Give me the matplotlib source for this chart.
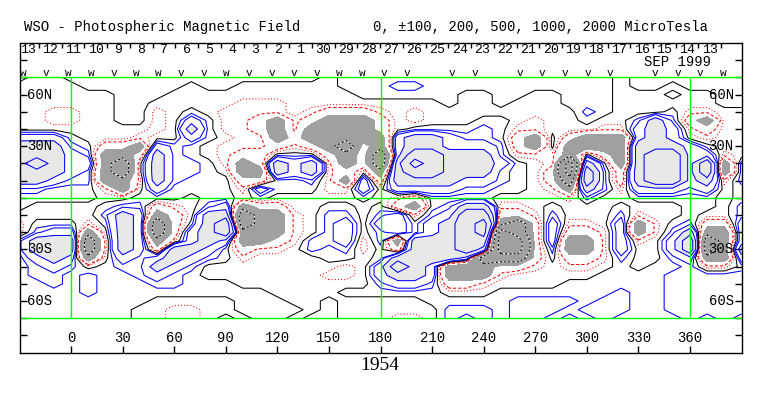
#!/usr/bin/env python3
"""
WSO synoptic chart of the photospheric magnetic field, Carrington rotation 1954.

Contours are drawn from a coarse longitude/latitude grid of field values
read off the original chart (one band code per grid point).
"""

import numpy as np
import matplotlib.pyplot as plt

MONO = "Liberation Mono"
SERIF = "Liberation Serif"

# Grid: longitudes every 10 deg, latitudes every 5 deg (north to south)
LON = list(range(-30, 391, 10))
LAT = list(range(70, -71, -5))

# band code -> representative field value in microTesla
BAND = {"R": -2500, "Q": -1500, "W": -750, "N": -350, "n": -150, "-": -50,
        "+": 50, "p": 150, "P": 350, "H": 750, "X": 1500, "Z": 2500}

# one string per latitude row, one character per longitude column
FIELD_ROWS = [
    "+--+++++++" "++++++++-+" "++++++++++" "+++++-++++" "+++",  # 70N
    "----++++++" "-++------+" "++pp++++++" "+++++-++-+" "+++",  # 65N
    "------+++-" "----------" "++++++--++" "--+++---+-" "-++",  # 60N
    "------++--" "---nnn----" "-----+--+-" "--+++-----" "-++",  # 55N
    "--nn--++n-" "+-nnnn-nNN" "Nn-n------" "---p+---+n" "n--",  # 50N
    "--nn--++n-" "P+nnNWnNWW" "WN-n---++-" "n--+--pHpN" "W--",  # 45N
    "--------n-" "H+nnNWnWWW" "WN-++++p+n" "n---nnPHPn" "N--",  # 40N
    "PPP+---n--" "P+-nnWNWWW" "WWPHHPpp+N" "W+NWWWPHP-" "n--",  # 35N
    "HHHp+NNWPp" "+-nnnNnNWQ" "NWPHHPPPpN" "W+WWWWHHHP" "+--",  # 30N
    "HHHPpWWNHp" "+-nNN+++NW" "NQPXXHHHpn" "nnW+NWHXXP" "Pn-",  # 25N
    "HXHPPWQ-Hp" "p+nWNHPHnW" "NQHZXHHHP+" "-nRH+WHXXP" "XWp",  # 20N
    "HHHPpWQ-Hp" "p+-WWHPHnN" "-WHXXHHHp+" "-NRXpNHXXP" "XWp",  # 15N
    "HHPppWWnHp" "+++NN++pnW" "PNHHHHPPp+" "-NQXpNHXXP" "Hnp",  # 10N
    "pp+++nW-P+" "+++nP+++nn" "P-PPPPpp++" "-nWHpnPPPp" "P-+",  # 5N
    "+++++--+++" "-++-+-----" "+-nN++++--" "--np--++++" "+-+",  # 0
    "+----+ppNn" "-pPWNN--++" "-+NW+pHHnn" "-+---+---+" "+-p",  # 5S
    "-----pHPWN" "-HHQWWn-pp" "-pPnpPXXNN" "np---pn--+" "--p",  # 10S
    "n+++n+HPQN" "+HXQWWn-pP" "-PP+PHXZWQ" "NPnn-PWn+p" "NNP",  # 15S
    "npPPW-HPQN" "PHXWWWn-pP" "-pP+PHXZRQ" "NPNNnPWnpH" "WWP",  # 20S
    "pHHHQnHPWn" "PHPWWNnppP" "npWHHHXXRR" "NPWWnPn-PX" "QWP",  # 25S
    "pHHHQnHPNH" "HP+Nnn-p+p" "n+NHHHXHRR" "NpWWnP--PX" "QWH",  # 30S
    "+PHPW-PpPH" "Pp+n----++" "-+HHHHPQQQ" "N+NNnp--pP" "WWP",  # 35S
    "+pPp-+ppHP" "p--------n" "-PXHPWWWNN" "n-nn-+-++p" "nn+",  # 40S
    "+pp+p++pPp" "+-------nn" "-PHHPWWWn-" "----++++pp" "ppp",  # 45S
    "++p+p+++pp" "+++-------" "-pPPpNNn--" "--++++++pp" "ppp",  # 50S
    "++++p+++++" "+++++----+" "+++++---++" "+++++p++pp" "ppp",  # 55S
    "++++++++--" "---+++--+-" "----+++++p" "ppp+pp++pp" "ppp",  # 60S
    "+++++++--n" "n--++++-+-" "-----ppp+p" "pp+ppp++pp" "ppp",  # 65S
    "+++++++--n" "n-+-++-++-" "--nn-p+p+p" "p+p+p++++p" "+p+",  # 70S
]

# calendar days along the top (time runs right to left), Sep/Oct 1999
DAYS = [13, 12, 11, 10, 9, 8, 7, 6, 5, 4, 3, 2, 1, 30, 29, 28, 27, 26, 25,
        24, 23, 22, 21, 20, 19, 18, 17, 16, 15, 14, 13]
DAY_LON0 = -25.3
DAY_STEP = 13.23

# observation markers: day slot and glyph
OBS_SLOT = [0, 1, 2, 3, 4, 5, 6, 7, 8, 9, 10, 11, 12, 13, 14, 15, 16, 17,
            19, 20, 22, 23, 24, 25, 26, 28, 29, 30, 31]
OBS_KIND = ["w", "v", "w", "w", "v", "w", "w", "v", "v", "w", "v", "v", "v",
            "v", "w", "w", "v", "v", "v", "v", "v", "v", "v", "v", "v", "v",
            "v", "v", "w"]
OBS_LON0 = -27.8
OBS_STEP = 13.13

XTICKS = [0, 30, 60, 90, 120, 150, 180, 210, 240, 270, 300, 330, 360]
LAT_LABELS = {60: "60N", 30: "30N", -30: "30S", -60: "60S"}

LIGHT = "#e8e8e8"
DARK = "#a0a0a0"
GREEN = "#00ff00"
LW = 0.75


def build_field():
    """Turn the band-code rows into a numeric grid (south to north)."""
    z = np.array([[BAND[c] for c in row] for row in FIELD_ROWS], dtype=float)
    lat = np.array(LAT[::-1], dtype=float)
    return np.array(LON, dtype=float), lat, z[::-1]


def draw_field(ax, lon, lat, z):
    """Shaded areas and contour lines of the magnetic field."""
    ax.contourf(lon, lat, z, levels=[500, 1e5], colors=[LIGHT])
    ax.contourf(lon, lat, z, levels=[-1e5, -500], colors=[DARK])

    ax.contour(lon, lat, z, levels=[100, 200, 500, 1000, 2000],
               colors="blue", linewidths=LW)
    ax.contour(lon, lat, z, levels=[0], colors="black", linewidths=LW)
    ax.contour(lon, lat, z, levels=[-100], colors="red", linewidths=LW,
               linestyles=[(0, (1, 2))])
    ax.contour(lon, lat, z, levels=[-200], colors="red", linewidths=LW,
               linestyles=[(0, (3, 2))])
    # strong negative field: black/white dashes on the dark shading
    ax.contour(lon, lat, z, levels=[-2000, -1000], colors="white",
               linewidths=LW)
    ax.contour(lon, lat, z, levels=[-2000, -1000], colors="black",
               linewidths=LW, linestyles=[(0, (2, 2))])


def draw_frame(ax):
    """Green reference lines, ticks and the labels inside the box."""
    ax.axhline(70, color=GREEN, lw=1)
    ax.axhline(-70, color=GREEN, lw=1)
    ax.axhline(0, color=GREEN, lw=1)
    ax.vlines([0, 180, 360], -70, 70, color=GREEN, lw=1)

    ax.set_xlim(-30, 390)
    ax.set_ylim(-90, 90)
    ax.set_xticks(XTICKS)
    ax.set_xticklabels([])
    ax.set_yticks(range(-80, 81, 10))
    ax.set_yticklabels([])
    ax.tick_params(axis="x", direction="in", length=5, width=1,
                   bottom=True, top=False)
    ax.tick_params(axis="y", direction="in", length=5, width=1,
                   left=True, right=True)
    for spine in ax.spines.values():
        spine.set_linewidth(1)

    for t in XTICKS:
        ax.text(t, -81.5, str(t), ha="center", va="center",
                fontsize=10, family=MONO)
    for lat, label in LAT_LABELS.items():
        ax.text(-25.8, lat, label, ha="left", va="center",
                fontsize=10, family=MONO)
        ax.text(385.5, lat, label, ha="right", va="center",
                fontsize=10, family=MONO)


def draw_calendar(ax):
    """Day numbers, separators and observation markers along the top."""
    for i, day in enumerate(DAYS):
        x = DAY_LON0 + i * DAY_STEP
        ax.text(x, 85.8, str(day), ha="center", va="center",
                fontsize=9.5, family=MONO)
        ax.vlines(x + DAY_STEP / 2, 87, 90, color="black", lw=1)
    ax.text(372, 79, "SEP 1999", ha="right", va="center",
            fontsize=10, family=MONO)

    for slot, kind in zip(OBS_SLOT, OBS_KIND):
        ax.text(OBS_LON0 + slot * OBS_STEP, 71, kind, ha="center",
                va="baseline", fontsize=8, family=MONO)


def main():
    fig = plt.figure(figsize=(7.63, 3.96), dpi=100)
    ax = fig.add_axes([19.5 / 763, 43.3 / 396, 722 / 763, 309.7 / 396])

    lon, lat, z = build_field()
    draw_field(ax, lon, lat, z)
    draw_frame(ax)
    draw_calendar(ax)

    fig.text(24 / 763, 1 - 27 / 396, "WSO - Photospheric Magnetic Field",
             va="center", fontsize=10, family=MONO)
    fig.text(373 / 763, 1 - 27 / 396,
             "0, \u00b1100, 200, 500, 1000, 2000 MicroTesla",
             va="center", fontsize=10, family=MONO)
    fig.text(380 / 763, 1 - 366 / 396, "1954", ha="center", va="center",
             fontsize=14, family=SERIF)

    fig.savefig("out.png", dpi=100, facecolor="white")


if __name__ == "__main__":
    main()
